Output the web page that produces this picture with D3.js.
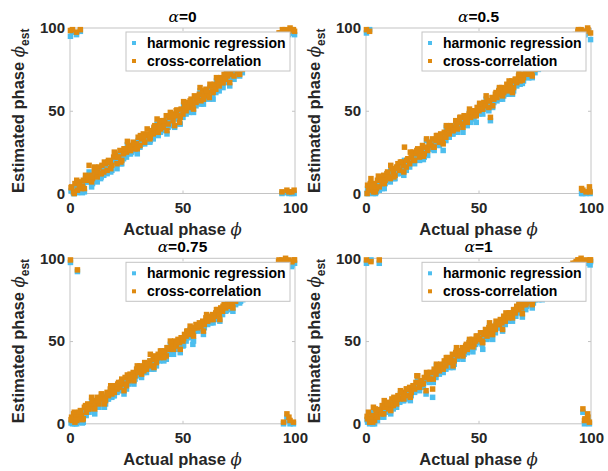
<!DOCTYPE html>
<html><head><meta charset="utf-8">
<script src="https://cdn.jsdelivr.net/npm/d3@7"></script>
<style>body{margin:0;background:#fff}svg{display:block}</style>
</head><body><svg id="c" width="608" height="471"></svg>
<script>
// true phases of the trials (x values), batch A and batch B
const actualPhase = [
 0.2,0.7,1.1,1.6,2.2,2.9,3.3,3.8,4.6,5.1,
 5.9,6.4,7.2,7.9,8.5,9.3,10.0,10.8,11.5,12.1,
 12.9,13.6,14.2,15.0,15.8,16.5,17.1,17.9,18.6,19.4,
 20.1,20.9,21.6,22.2,23.0,23.8,24.5,25.1,25.9,26.7,
 27.4,28.1,28.9,29.6,30.3,31.1,31.8,32.6,33.2,34.0,
 34.8,35.5,36.2,37.0,37.7,38.4,39.2,39.9,40.6,41.4,
 42.1,42.8,43.6,44.3,45.0,45.8,46.5,47.2,48.0,48.7,
 49.4,50.2,50.9,51.6,52.4,53.1,53.8,54.6,55.3,56.0,
 56.8,57.5,58.2,59.0,59.7,60.4,61.2,61.9,62.6,63.4,
 64.1,64.8,65.6,66.3,67.0,67.8,68.5,69.2,70.0,70.7,
 71.4,72.2,72.9,73.6,74.4,75.1,75.8,76.6,77.3,78.0,
 78.8,79.5,80.2,81.0,81.7,82.4,83.2,83.9,84.6,85.4,
 86.1,86.8,87.6,88.3,89.0,89.8,90.5,91.2,92.0,92.7,
 93.4,94.2,94.9,95.6,96.4,97.1,97.8,98.6,99.3,99.8];
const actualPhaseB = [
 0.5,1.9,3.0,4.2,5.5,6.9,8.1,9.6,11.0,12.4,
 13.9,15.3,16.8,18.1,19.7,21.2,22.6,24.0,25.5,26.9,
 28.4,29.9,31.3,32.8,34.3,35.7,37.3,38.7,40.2,41.7,
 43.1,44.6,46.0,47.5,49.0,50.5,51.9,53.4,54.9,56.3,
 57.8,59.3,60.7,62.2,63.6,65.1,66.6,68.0,69.5,71.0,
 72.4,73.9,75.4,76.8,78.3,79.7,81.2,82.7,84.1,85.6,
 87.1,88.5,90.0,91.4,92.9,94.4,95.8,97.3,98.5,99.6];

const alphaLabels = ["0", "0.5", "0.75", "1"];
const seriesNames = ["harmonic regression", "cross-correlation"];
const tickValues = [0, 50, 100];

// alpha = 0
const hrEstA0 = [95,2,97.5,0,3,96,0.5,4,98,1, 6,1,7,7,13,10,6,11,11,7, 14,9,16,11,15,12,17,18,14,19,
 21,15,20,24,18,21,25,22,27,24, 25,29,26,27,32,28,30,33,30,32, 33,31,36,33,39,36,35,39,42,38,
 41,44,40,44,45,41,40,48,45,42, 48,46,50,48,53,49,55,51,56,53, 55,58,54,60,57,60,59,57,62,60,
 63,61,66,62,67,65,69,67,68,71, 70,72,69,74,72,73,76,73,76,77, 77,80,77,81,79,82,81,84,85,82,
 85,84,87,87,89,86,90,89,92,92, 95,0,96,97,0.5,96,99,0,97,96];
const ccEstA0 = [98.5,4,99,1,6,97.5,2,7,99,3, 8,3,10,8,17,11,9,14,12,10, 16,12,17,13,18,14,20,19,17,22,
 23,18,22,26,20,24,27,25,29,26, 28,31,27,30,34,29,33,36,31,35, 36,33,38,36,41,39,37,42,44,40,
 43,47,42,46,48,44,41,50,47,43, 51,48,53,50,55,52,57,54,59,55, 58,60,56,62,59,63,61,58,65,62,
 66,63,68,65,70,67,72,69,71,74, 72,75,71,77,74,76,79,75,78,80, 79,82,80,84,81,85,83,86,88,84,
 88,86,90,89,92,88,93,91,95,94, 97,1,98,99,2,98,100,1,99,98];
const hrEstB0 = [1.5,0,7,3,0.5,9,9,4,14,11, 10,16,18,13,21,20,18,24,29.5,24, 28,24,34,32,35,32,39,42,37,42,
 36,46,46,48.5,42,53.5,51,53,49,56, 62,54,61,64,57,68,68,64,70.5,65, 74,72,71,80,76,76,86,81,78,87,
 87,82.5,94,90,93,97,97,0,97,0];
const ccEstB0 = [3.5,0,8,5,4.5,11,10,7,16,13, 12,19,19,15,25,22,19,27,31.5,26, 30,27,35,34,39,34,40,45,39,44,
 38,49,47,50.5,46,55.5,52,56,51,58, 64,57,62,66,61,70,69,67,72.5,67, 76,75,72,82,80,78,87,84,80,89,
 89,85.5,95,92,97,99,98,1,99,2];
// alpha = 0.5
const hrEstA05 = [97,3,0,99,6,2,0,3,1,5, 2,7,3,9,6,10,8,7,12,11, 9,13,16,12,17,15,20,14,19,16,
 20,22,18,21,25,20,24,26,22,26, 23,29,27,31,26,30,32,29,34,31, 35,32,36,34,38,36,38,41,37,40,
 43,40,44,43,41,46,43,48,45,47, 49,48,51,49,53,51,54,50,44,55, 55,58,56,60,57,61,59,60,63,60,
 63,66,62,67,65,68,66,70,68,71, 71,70,73,71,75,73,76,75,77,76, 78,77,80,79,82,80,83,82,85,83,
 86,85,88,87,89,88,91,89,92,93, 94,96,95,97,0,96,0,97,2,93];
const ccEstA05 = [99,5,2,98,9,4,1,6,3,8, 4,9,6,11,8,12,10,9,15,13, 11,16,18,14,19,17,28,16,21,18,
 22,25,20,24,27,22,26,29,24,28, 26,31,29,33,28,32,35,31,36,33, 37,34,39,36,41,38,40,44,39,43,
 46,42,47,45,43,48,46,50,47,49, 52,50,54,51,55,53,56,52,46,58, 57,60,58,62,60,64,61,63,66,62,
 65,68,64,69,67,71,68,72,70,73, 74,72,76,73,77,75,79,77,80,78, 81,79,83,81,84,82,86,84,87,85,
 88,87,90,89,92,90,93,91,94,95, 96,98,97,99,2,98,1,99,4,97];
const hrEstB05 = [0,5,3,0,6.5,7,3,11,15,9, 12,18,11,18,21,19,23,23,20.5,32, 27,27,33,32,26,40,37,36,40,45,
 37,45,49,47.5,43,53.5,48,57,54,52, 58,63,57,61,64,60,66,72,66.5,73, 70,70,77,77,79,78,81,77,84,91,
 85,85.5,92,92,92,98,0,96,98,0];
const ccEstB05 = [0,6,5,1,10.5,8,6,13,17,10, 15,19,13,20,25,20,26,25,22.5,33, 30,28,35,34,30,41,40,38,42,46,
 40,46,51,49.5,47,54.5,51,59,56,53, 61,64,59,63,68,61,69,74,68.5,74, 73,71,79,79,83,79,84,79,86,92,
 88,86.5,94,94,96,99,3,98,100,1];
// alpha = 0.75
const hrEstA075 = [97.5,2,0,3,0,3,92,1,5,3, 1,8,5,10,7,9,12,8,10,14, 10,13,16,13,12,17,15,19,16,17,
 21,19,22,20,25,22,25,21,24,27, 25,29,27,30,29,32,28,32,34,31, 34,36,33,37,39,35,40,38,41,40,
 42,39,44,42,46,44,48,45,48,47, 49,47,51,50,54,52,55,48,56,58, 56,58,57,60,58,62,60,63,61,64,
 63,65,67,64,68,66,69,68,70,69, 72,70,73,72,75,77,74,77,76,78, 78,80,79,81,80,83,82,84,83,86,
 85,87,86,89,88,91,89,92,94,96, 95,97,0,96,4,97,0,96,0,97];
const ccEstA075 = [99,4,2,6,1,5,93,3,8,5, 3,10,7,12,9,11,14,10,13,16, 12,15,18,16,14,19,17,21,18,20,
 23,21,25,22,27,24,28,23,26,30, 27,31,29,33,31,35,30,34,37,33, 36,38,35,39,41,37,42,40,44,42,
 44,41,46,45,48,46,50,47,51,49, 52,50,54,53,56,54,57,55,58,60, 58,61,59,62,60,64,62,65,63,66,
 65,67,69,66,70,68,72,70,73,71, 74,72,76,74,77,79,76,80,78,81, 80,82,81,84,82,85,84,87,85,88,
 87,89,88,91,90,93,91,94,96,98, 97,99,1,98,6,99,2,98,1,99];
const hrEstB075 = [0.5,5,0,6,0.5,7,8,14,6,12, 16,10,15,22,17,20,24,18,26.5,26, 24,33,31,31,34,38,33,38,41,38,
 44,48,42,48.5,43,47.5,55,57,50,57, 57,54,63,63,61,65,62,69,68.5,74, 68,75,73,75,80,82,77,83,86,83,
 88,87.5,85,94,97,93,99,2,95,97];
const ccEstB075 = [2.5,7,2,7,2.5,11,9,16,9,14, 18,12,18,23,19,24,25,20,29.5,28, 26,35,34,32,36,42,34,40,44,40,
 46,50,45,49.5,45,51.5,56,59,53,59, 59,56,66,64,63,69,63,71,71.5,76, 70,77,76,76,82,86,78,85,89,85,
 90,89.5,88,95,99,97,100,4,98,99];
// alpha = 1
const hrEstA1 = [97,1,4,0,99,3,7,0,4,2, 97,6,9,4,8,11,7,10,13,9, 12,10,15,13,17,14,16,19,15,20,
 17,21,19,23,26,20,24,22,26,18, 27,25,29,16,31,28,33,30,33,32, 36,33,38,35,37,40,36,41,39,42,
 40,44,42,45,43,47,45,48,46,48, 51,49,52,48,52,55,51,56,54,52, 57,55,59,58,61,59,63,60,64,62,
 65,63,67,65,69,67,71,68,70,73, 71,74,72,75,73,75,78,76,79,77, 80,78,82,80,84,81,83,86,84,87,
 85,88,87,90,89,92,90,94,95,93, 96,97,95,98,7,0,97,2,0,98];
const ccEstA1 = [99,3,7,1,98,5,10,2,6,4, 99,8,11,6,10,13,9,12,15,11, 14,12,17,15,19,16,18,21,17,22,
 19,23,21,25,29,22,26,24,28,20, 29,27,31,21,33,30,35,32,36,34, 38,35,40,37,39,42,38,43,41,44,
 42,46,44,47,45,49,47,51,48,50, 53,51,55,50,54,57,53,58,56,54, 59,57,61,60,63,61,65,62,66,64,
 67,65,69,67,71,69,73,70,72,75, 73,76,74,78,75,77,80,78,81,79, 82,80,84,82,86,83,85,88,86,89,
 87,90,89,92,91,94,92,96,97,95, 98,99,97,100,9,2,99,4,1,99];
const hrEstB1 = [2.5,1,0,6,6.5,4,10,11,6,13, 13,18,14,18,14,21,25,24,22.5,28, 29,25,35,32,31,38,34,34,44,41,
 39,46,50,43.5,51,49.5,45,54,59,51, 60,58,56,64,65,62,65,73,64.5,69, 75,70,77,75,75,82,79,79,87,89,
 86,84.5,93,91,95,97,94,2,4,96];
const ccEstB1 = [4.5,3,1,9,8.5,6,14,12,8,16, 15,20,15,21,16,23,29,25,24.5,31, 31,27,36,35,33,40,38,35,46,44,
 41,48,51,46.5,53,51.5,49,55,61,54, 62,60,57,67,67,64,69,74,66.5,72, 77,72,78,78,77,84,83,80,89,92,
 88,86.5,94,94,97,99,98,3,6,99];

const colors = ["#4DBEEE", "#DF8A10"];
const panels = [
  {alpha: alphaLabels[0], series: [[hrEstA0, hrEstB0], [ccEstA0, ccEstB0]], left: 70, top: 28},
  {alpha: alphaLabels[1], series: [[hrEstA05, hrEstB05], [ccEstA05, ccEstB05]], left: 366, top: 28},
  {alpha: alphaLabels[2], series: [[hrEstA075, hrEstB075], [ccEstA075, ccEstB075]], left: 70, top: 258.3},
  {alpha: alphaLabels[3], series: [[hrEstA1, hrEstB1], [ccEstA1, ccEstB1]], left: 366, top: 258.3}
];
const W = 225, H = 165.5, MS = 5.5;
const FONT = "'Liberation Sans', Arial, Helvetica, sans-serif";
const SERIF = "'DejaVu Serif', 'Liberation Serif', serif";
const svg = d3.select("#c");

panels.forEach(p => {
  const g = svg.append("g").attr("transform", `translate(${p.left},${p.top})`);
  const x = d3.scaleLinear().domain([0, 100]).range([0, W]);
  const y = d3.scaleLinear().domain([0, 100]).range([H, 0]);

  g.append("rect").attr("width", W).attr("height", H)
    .attr("fill", "none").attr("stroke", "#c4c4c4").attr("stroke-width", 1);

  const ax = g.append("g").attr("transform", `translate(0,${H})`)
    .call(d3.axisBottom(x).tickValues(tickValues).tickSize(-3).tickPadding(9));
  const ay = g.append("g")
    .call(d3.axisLeft(y).tickValues(tickValues).tickSize(-3).tickPadding(5));
  g.append("g").call(d3.axisTop(x).tickValues(tickValues).tickSize(-3).tickFormat(""));
  g.append("g").attr("transform", `translate(${W},0)`).call(d3.axisRight(y).tickValues(tickValues).tickSize(-3).tickFormat(""));
  g.selectAll(".domain").remove();
  g.selectAll(".tick line").attr("stroke", "#c4c4c4");
  [ax, ay].forEach(a => a.selectAll("text")
    .attr("font-family", FONT).attr("font-size", 15).attr("font-weight", "bold").attr("fill", "#262626"));

  // points: harmonic regression first, cross-correlation on top
  p.series.forEach((batches, si) => {
    const pts = actualPhase.map((a, i) => [a, batches[0][i]])
      .concat(actualPhaseB.map((a, i) => [a, batches[1][i]]));
    g.append("g").selectAll("rect").data(pts)
      .join("rect")
      .attr("x", d => x(d[0]) - MS / 2).attr("y", d => y(d[1]) - MS / 2)
      .attr("width", MS).attr("height", MS)
      .attr("fill", colors[si]);
  });

  const t = g.append("text").attr("x", W / 2).attr("y", -6).attr("text-anchor", "middle")
    .attr("font-size", 15.5).attr("fill", "#000");
  t.append("tspan").attr("font-family", SERIF).attr("font-style", "italic").text("α");
  t.append("tspan").attr("font-family", FONT).attr("font-weight", "bold").text("=" + p.alpha);

  const xl = g.append("text").attr("x", W / 2).attr("y", H + 41).attr("text-anchor", "middle")
    .attr("font-size", 16.5).attr("fill", "#262626");
  xl.append("tspan").attr("font-family", FONT).attr("font-weight", "bold").text("Actual phase ");
  xl.append("tspan").attr("font-family", SERIF).attr("font-style", "italic").text("ϕ");

  const yl = g.append("text").attr("transform", `translate(-46,${H / 2}) rotate(-90)`)
    .attr("text-anchor", "middle").attr("font-size", 16.5).attr("fill", "#262626");
  yl.append("tspan").attr("font-family", FONT).attr("font-weight", "bold").text("Estimated phase ");
  yl.append("tspan").attr("font-family", SERIF).attr("font-style", "italic").text("ϕ");
  yl.append("tspan").attr("font-family", FONT).attr("font-weight", "bold").attr("font-size", 12).attr("dy", 5).text("est");

  const lw = 164, lh = 39;
  const lg = g.append("g").attr("transform", `translate(${W - lw - 5},4)`);
  lg.append("rect").attr("width", lw).attr("height", lh).attr("fill", "#fff").attr("stroke", "#c4c4c4");
  seriesNames.forEach((name, i) => {
    const cy = 11 + i * 18;
    lg.append("rect").attr("x", 6).attr("y", cy - 2).attr("width", 4).attr("height", 4).attr("fill", colors[i]);
    lg.append("text").attr("x", 21).attr("y", cy + 5).attr("font-family", FONT).attr("font-weight", "bold")
      .attr("font-size", 14).attr("fill", "#000").text(name);
  });
});
</script></body></html>
